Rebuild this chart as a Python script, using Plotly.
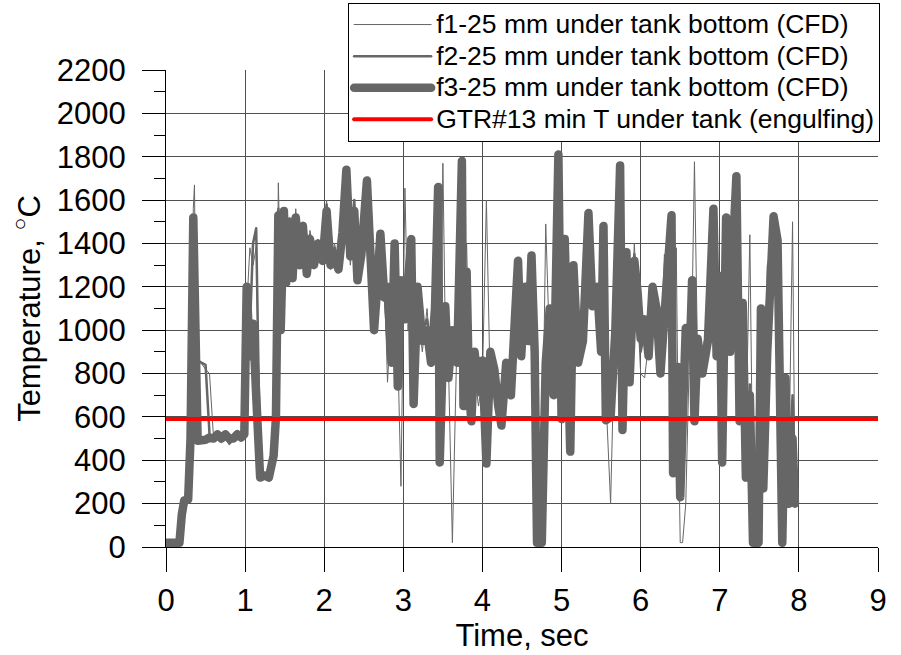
import plotly.graph_objects as go

time_s = [
    0.00, 0.17, 0.20, 0.23, 0.28, 0.31, 0.345, 0.36, 0.37, 0.40,
    0.50, 0.55, 0.60, 0.65, 0.70, 0.75, 0.80, 0.85, 0.90, 0.95,
    0.99, 1.02, 1.06, 1.10, 1.14, 1.19, 1.25, 1.30, 1.36, 1.39,
    1.42, 1.45, 1.49, 1.52, 1.56, 1.60, 1.64, 1.69, 1.73, 1.78,
    1.82, 1.87, 1.92, 1.98, 2.03, 2.08, 2.13, 2.18, 2.23, 2.28,
    2.33, 2.38, 2.42, 2.47, 2.54, 2.58, 2.63, 2.67, 2.71, 2.76,
    2.80, 2.85, 2.89, 2.93, 2.97, 3.02, 3.06, 3.10, 3.13, 3.18,
    3.24, 3.30, 3.35, 3.40, 3.44, 3.46, 3.50, 3.53, 3.57, 3.62,
    3.68, 3.74, 3.76, 3.80, 3.83, 3.86, 3.90, 3.95, 4.00, 4.05,
    4.10, 4.15, 4.20, 4.24, 4.30, 4.36, 4.41, 4.45, 4.49, 4.54,
    4.58, 4.62, 4.66, 4.69, 4.75, 4.80, 4.85, 4.90, 4.96, 5.00,
    5.04, 5.08, 5.11, 5.15, 5.21, 5.27, 5.34, 5.39, 5.45, 5.50,
    5.53, 5.56, 5.62, 5.68, 5.74, 5.77, 5.82, 5.86, 5.92, 5.96,
    6.00, 6.05, 6.10, 6.15, 6.20, 6.25, 6.30, 6.33, 6.39, 6.41,
    6.45, 6.47, 6.50, 6.53, 6.57, 6.62, 6.65, 6.68, 6.72, 6.78,
    6.85, 6.92, 6.96, 7.00, 7.03, 7.08, 7.13, 7.17, 7.21, 7.25,
    7.29, 7.33, 7.38, 7.42, 7.49, 7.52, 7.55, 7.60, 7.68, 7.73,
    7.76, 7.79, 7.83, 7.87, 7.92, 7.95,
]

f3_temp = [
    20, 20, 150, 215, 220, 500, 1520, 1000, 1430, 490,
    495, 505, 500, 520, 500, 520, 500, 500, 520, 505,
    520, 1200, 880, 1030, 700, 320, 330, 320, 420, 600,
    1530, 1000, 1550, 1220, 1500, 1240, 1520, 1300, 1480, 1260,
    1420, 1300, 1400, 1320, 1550, 1300, 1350, 1280, 1450, 1740,
    1340, 1550, 1230, 1350, 1690, 1400, 1000, 1200, 1445, 1150,
    1200, 850, 1400, 740, 1230, 1050, 1300, 1420, 660, 1200,
    950, 1000, 850, 1100, 1660, 390, 900, 1110, 780, 1000,
    850, 1780, 650, 1270, 720, 580, 900, 750, 860, 385,
    900, 820, 650, 560, 850, 700, 1050, 1320, 880, 1200,
    950, 1345, 900, 20, 20, 850, 1100, 700, 1810, 590,
    1420, 700, 440, 1300, 850, 950, 1540, 1110, 1200, 900,
    1480, 585, 600, 1000, 1760, 540, 1360, 760, 1320, 1180,
    960, 1050, 880, 1200, 1100, 800, 1000, 1220, 1530, 340,
    700, 830, 230, 700, 1010, 880, 1230, 580, 960, 800,
    950, 1560, 880, 1250, 390, 1520, 900, 1400, 1710, 580,
    1125, 320, 700, 20, 20, 1100, 270, 900, 1525, 1415,
    200, 20, 780, 200, 500, 200,
]

f2_temp = [
    20, 20, 120, 200, 210, 450, 1500, 1380, 1400, 860,
    840, 520, 500, 510, 490, 505, 480, 495, 510, 500,
    530, 1150, 1000, 1400, 1470, 350, 320, 330, 400, 560,
    1560, 1050, 1500, 1250, 1480, 1260, 1500, 1320, 1460, 1280,
    1440, 1320, 1380, 1340, 1580, 1320, 1380, 1300, 1520, 1700,
    1380, 1600, 1260, 1380, 1650, 1450, 1050, 1180, 1420, 1200,
    950, 1000, 1380, 800, 1200, 1100, 1250, 1400, 700, 1150,
    1000, 1050, 900, 1150, 1600, 450, 950, 1050, 800, 950,
    900, 1700, 700, 1200, 800, 650, 850, 700, 800, 450,
    850, 780, 700, 600, 800, 750, 1100, 1300, 900, 1150,
    1000, 1300, 850, 100, 150, 800, 1050, 750, 1750, 650,
    1400, 750, 500, 1250, 900, 1000, 1500, 1150, 1150, 950,
    1450, 650, 650, 1050, 1700, 600, 1300, 800, 1350, 1150,
    900, 1000, 900, 1150, 1050, 850, 1050, 1200, 1450, 400,
    750, 800, 300, 650, 950, 900, 1200, 650, 900, 850,
    1000, 1500, 900, 1200, 450, 1500, 950, 1350, 1650, 650,
    1100, 400, 750, 100, 80, 1050, 350, 850, 1480, 1400,
    300, 100, 750, 250, 700, 250,
]

f1_temp = [
    20, 20, 100, 190, 200, 420, 1560, 1670, 1300, 870,
    820, 800, 510, 495, 480, 500, 470, 490, 500, 490,
    540, 1100, 1380, 1300, 1380, 400, 330, 320, 380, 550,
    1680, 1200, 1450, 1300, 1520, 1280, 1560, 1290, 1500, 1240,
    1460, 1350, 1420, 1300, 1600, 1280, 1400, 1310, 1620, 1550,
    1300, 1500, 1340, 1450, 1600, 1550, 1100, 1150, 1400, 1250,
    760, 1100, 1350, 900, 280, 1655, 1000, 1350, 800, 1100,
    900, 1100, 850, 1300, 1500, 600, 1770, 1000, 850, 20,
    1000, 1500, 1200, 1400, 900, 700, 800, 650, 780, 1600,
    700, 750, 650, 700, 750, 900, 1200, 1250, 950, 1100,
    1050, 1200, 800, 300, 200, 1490, 900, 800, 1650, 700,
    1350, 800, 600, 1200, 950, 1050, 1450, 1200, 1100, 1000,
    1400, 700, 200, 1100, 1600, 700, 1250, 900, 1400, 1100,
    800, 780, 950, 1100, 1000, 900, 1350, 1150, 1400, 500,
    1380, 700, 20, 20, 200, 950, 1100, 1777, 850, 900,
    1050, 1450, 950, 1150, 550, 1450, 1000, 1300, 1600, 700,
    1050, 500, 1440, 200, 150, 1000, 450, 1300, 1400, 1350,
    400, 150, 700, 300, 1500, 300,
]

gtr_time = [0, 9]
gtr_temp = [590, 590]

names = [
    "f1-25 mm under tank bottom (CFD)",
    "f2-25 mm under tank bottom (CFD)",
    "f3-25 mm under tank bottom (CFD)",
    "GTR#13 min T under tank (engulfing)",
]


def legend_label(s):
    return '<span style="font-size:26.5px">' + s + '</span>'


gray = "#666666"
fig = go.Figure()
fig.add_trace(go.Scatter(x=time_s, y=f1_temp, mode="lines", name=legend_label(names[0]),
                         line=dict(color=gray, width=1)))
fig.add_trace(go.Scatter(x=time_s, y=f2_temp, mode="lines", name=legend_label(names[1]),
                         line=dict(color=gray, width=2.5)))
fig.add_trace(go.Scatter(x=time_s, y=f3_temp, mode="lines", name=legend_label(names[2]),
                         line=dict(color=gray, width=8.5)))
fig.add_trace(go.Scatter(x=gtr_time, y=gtr_temp, mode="lines", name=legend_label(names[3]),
                         line=dict(color="#ff0000", width=4)))

font_family = "Liberation Sans, Arial, sans-serif"
fs = 31
fig.update_layout(
    width=901, height=655,
    margin=dict(l=166, r=23, t=70, b=108, autoexpand=False),
    plot_bgcolor="white", paper_bgcolor="white",
    font=dict(family=font_family, color="black"),
    showlegend=True,
    legend=dict(
        x=1.003, y=1.141, xanchor="right", yanchor="top",
        bgcolor="white", bordercolor="black", borderwidth=1,
        font=dict(size=22, family=font_family, color="black"),
        itemwidth=77, tracegroupgap=0,
    ),
)
fig.update_xaxes(
    range=[0, 9], tick0=0, dtick=1,
    ticks="outside", ticklen=24, tickcolor="black", tickwidth=1,
    ticklabelstandoff=2,
    showline=True, linecolor="black", linewidth=1, mirror=False,
    showgrid=True, gridcolor="#505050", gridwidth=1, zeroline=False,
    tickfont=dict(size=fs, family=font_family, color="black"),
    title=dict(text="Time, sec", font=dict(size=fs, family=font_family, color="black"), standoff=3),
)
fig.update_yaxes(
    range=[0, 2200], tick0=0, dtick=200,
    ticks="outside", ticklen=23, tickcolor="black", tickwidth=1,
    ticklabelstandoff=10,
    minor=dict(ticks="outside", ticklen=11, dtick=100, tickcolor="black", showgrid=False),
    showline=True, linecolor="black", linewidth=1, mirror=False,
    showgrid=True, gridcolor="#505050", gridwidth=1, zeroline=False,
    tickfont=dict(size=fs, family=font_family, color="black"),
    title=dict(text="Temperature, <sup>○</sup>C", font=dict(size=fs, family=font_family, color="black"), standoff=6),
)

round_joins = """
var gd = document.getElementById('{plot_id}');
function roundLines() {
  gd.querySelectorAll('path.js-line').forEach(function (p) {
    p.style.strokeLinejoin = 'round';
    p.style.strokeLinecap = 'round';
  });
}
roundLines();
gd.on('plotly_afterplot', roundLines);
"""

fig.write_html("out.html", post_script=round_joins)
